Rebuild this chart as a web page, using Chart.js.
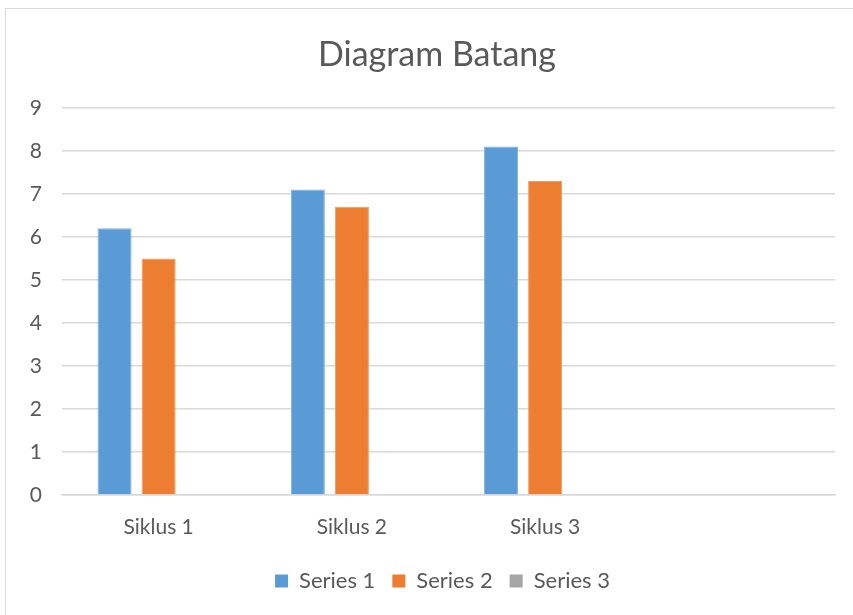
<!DOCTYPE html>
<html>
<head>
<meta charset="utf-8">
<script src="https://cdn.jsdelivr.net/npm/chart.js@4"></script>
<style>
  html, body { margin: 0; padding: 0; background: #fff; }
  #frame { position: absolute; left: 5px; top: 8px; width: 860px; height: 620px; border: 1px solid #D9D9D9; box-sizing: border-box; }
  #wrap { position: absolute; left: 0; top: 0; width: 853px; height: 615px; }
</style>
</head>
<body>
<div id="frame"></div>
<div id="wrap"><canvas id="c" width="853" height="615"></canvas></div>
<script>
const categories = ['Siklus 1', 'Siklus 2', 'Siklus 3', ''];
const series1 = [6.2, 7.1, 8.1, null];
const series2 = [5.5, 6.7, 7.3, null];
const series3 = [null, null, null, null];
const seriesNames = ['Series 1', 'Series 2', 'Series 3'];
const yTicks = [0, 1, 2, 3, 4, 5, 6, 7, 8, 9];

const FONT = "Lato, 'Open Sans', sans-serif";
const TXT = '#595959';

// The original chart frame extends past the right edge of the picture,
// so title and legend are centred on the wider frame.
const shiftBlocks = {
  id: 'shiftBlocks',
  afterLayout(chart) {
    const t = chart.titleBlock;
    if (t) { t.left = 0; t.right = 874; }
    const l = chart.legend;
    if (l) { l.left += 25; l.right += 25; }
  }
};

new Chart(document.getElementById('c'), {
  type: 'bar',
  data: {
    labels: categories,
    datasets: [
      { label: seriesNames[0], data: series1, backgroundColor: '#5B9BD5', borderColor: '#7FB2E0', borderWidth: 1 },
      { label: seriesNames[1], data: series2, backgroundColor: '#ED7D31', borderColor: '#F29A5E', borderWidth: 1 },
      { label: seriesNames[2], data: series3, backgroundColor: '#A5A5A5', borderColor: '#A5A5A5', borderWidth: 1 }
    ]
  },
  plugins: [shiftBlocks],
  options: {
    responsive: false,
    animation: false,
    devicePixelRatio: 1,
    categoryPercentage: 0.684,
    barPercentage: 0.773,
    layout: { padding: { left: 0, right: 18, top: 0, bottom: 13 } },
    plugins: {
      title: {
        display: true,
        text: 'Diagram Batang',
        color: TXT,
        font: { family: FONT, size: 34, weight: 'normal' },
        padding: { top: 35, bottom: 32 }
      },
      legend: {
        position: 'bottom',
        labels: {
          color: TXT,
          font: { family: FONT, size: 22 },
          boxWidth: 13,
          boxHeight: 13,
          padding: 17,
          generateLabels(chart) {
            return chart.data.datasets.map((ds, i) => ({
              text: ds.label, fillStyle: ds.backgroundColor, strokeStyle: ds.backgroundColor,
              lineWidth: 0, hidden: false, datasetIndex: i, fontColor: TXT
            }));
          }
        },
        onClick: null
      },
      tooltip: { enabled: false }
    },
    scales: {
      x: {
        grid: { display: false, drawTicks: false },
        border: { display: true, color: '#D9D9D9', width: 1.5 },
        ticks: { color: TXT, font: { family: FONT, size: 21 }, padding: 20 },
        afterFit(s) { s.height = 58; }
      },
      y: {
        min: 0, max: 9,
        afterBuildTicks(s) { s.ticks = yTicks.map(v => ({ value: v })); },
        grid: { color: '#D9D9D9', lineWidth: 1.5, drawTicks: false },
        border: { display: false },
        ticks: { color: TXT, font: { family: FONT, size: 21 }, padding: 20 },
        afterFit(s) { s.width = 62; }
      }
    }
  }
});
</script>
</body>
</html>
